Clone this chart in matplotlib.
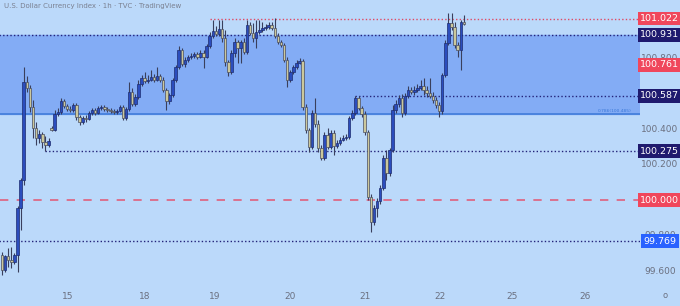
import matplotlib
matplotlib.use("Agg")
import matplotlib.pyplot as plt
import numpy as np

# hourly DXY candles
opens = [99.690, 99.606, 99.684, 99.662, 99.651, 99.690, 99.955, 100.113, 100.665, 100.631,
         100.524, 100.406, 100.349, 100.372, 100.327, 100.310, 100.406, 100.394, 100.485, 100.496,
         100.558, 100.530, 100.513, 100.507, 100.535, 100.468, 100.440, 100.462, 100.456, 100.490,
         100.507, 100.490, 100.518, 100.524, 100.513, 100.507, 100.501, 100.496, 100.501, 100.524,
         100.462, 100.513, 100.608, 100.541, 100.580, 100.654, 100.687, 100.670, 100.676, 100.693,
         100.676, 100.699, 100.676, 100.620, 100.558, 100.592, 100.676, 100.749, 100.845, 100.766,
         100.789, 100.806, 100.811, 100.823, 100.806, 100.828, 100.806, 100.868, 100.924, 100.952,
         100.935, 100.963, 100.913, 100.778, 100.721, 100.828, 100.890, 100.856, 100.890, 100.834,
         100.986, 100.941, 100.913, 100.947, 100.958, 100.969, 100.975, 100.986, 100.969, 100.924,
         100.890, 100.873, 100.789, 100.676, 100.721, 100.749, 100.772, 100.783, 100.524, 100.394,
         100.299, 100.490, 100.428, 100.293, 100.237, 100.366, 100.299, 100.377, 100.304, 100.321,
         100.338, 100.349, 100.355, 100.462, 100.490, 100.575, 100.518, 100.485, 100.383, 100.017,
         99.876, 99.955, 99.994, 100.068, 100.237, 100.152, 100.282, 100.507, 100.541, 100.575,
         100.490, 100.586, 100.620, 100.608, 100.620, 100.631, 100.642, 100.620, 100.603, 100.586,
         100.563, 100.535, 100.501, 100.704, 100.885, 100.997, 100.975, 100.873, 100.845, 101.003]
closes = [99.606, 99.684, 99.662, 99.651, 99.690, 99.955, 100.113, 100.665, 100.631, 100.524,
          100.406, 100.349, 100.372, 100.327, 100.310, 100.332, 100.394, 100.485, 100.496, 100.558,
          100.530, 100.513, 100.507, 100.535, 100.468, 100.440, 100.462, 100.456, 100.490, 100.507,
          100.490, 100.518, 100.524, 100.513, 100.507, 100.501, 100.496, 100.501, 100.524, 100.462,
          100.513, 100.608, 100.541, 100.580, 100.654, 100.687, 100.670, 100.676, 100.693, 100.676,
          100.699, 100.676, 100.620, 100.558, 100.592, 100.676, 100.749, 100.845, 100.766, 100.789,
          100.806, 100.811, 100.823, 100.806, 100.828, 100.806, 100.868, 100.924, 100.952, 100.935,
          100.963, 100.913, 100.778, 100.721, 100.828, 100.890, 100.856, 100.890, 100.834, 100.986,
          100.941, 100.913, 100.947, 100.958, 100.969, 100.975, 100.986, 100.969, 100.924, 100.890,
          100.873, 100.789, 100.676, 100.721, 100.749, 100.772, 100.783, 100.524, 100.394, 100.299,
          100.490, 100.428, 100.293, 100.237, 100.366, 100.299, 100.377, 100.304, 100.321, 100.338,
          100.349, 100.355, 100.462, 100.490, 100.575, 100.518, 100.485, 100.383, 100.017, 99.876,
          99.955, 99.994, 100.068, 100.237, 100.152, 100.282, 100.507, 100.541, 100.575, 100.490,
          100.586, 100.620, 100.608, 100.620, 100.631, 100.642, 100.620, 100.603, 100.586, 100.563,
          100.535, 100.501, 100.704, 100.885, 100.997, 100.975, 100.873, 100.845, 101.003, 100.992]
highs = [99.707, 99.690, 99.730, 99.735, 99.701, 99.966, 100.124, 100.749, 100.699, 100.648,
         100.563, 100.440, 100.394, 100.383, 100.361, 100.349, 100.417, 100.507, 100.518, 100.575,
         100.569, 100.541, 100.530, 100.547, 100.547, 100.479, 100.473, 100.479, 100.501, 100.518,
         100.518, 100.530, 100.535, 100.535, 100.524, 100.518, 100.513, 100.513, 100.535, 100.535,
         100.524, 100.665, 100.631, 100.597, 100.676, 100.704, 100.721, 100.704, 100.732, 100.710,
         100.749, 100.710, 100.693, 100.631, 100.603, 100.687, 100.761, 100.868, 100.856, 100.806,
         100.817, 100.828, 100.834, 100.834, 100.845, 100.845, 100.879, 100.947, 101.014, 100.980,
         101.014, 101.014, 100.958, 100.789, 100.845, 100.913, 100.901, 100.901, 100.913, 101.014,
         101.003, 100.997, 101.014, 101.014, 101.003, 100.992, 101.003, 101.003, 101.025, 100.941,
         100.901, 100.885, 100.806, 100.732, 100.761, 100.789, 100.800, 100.794, 100.541, 100.406,
         100.507, 100.575, 100.451, 100.310, 100.383, 100.406, 100.394, 100.394, 100.338, 100.355,
         100.366, 100.372, 100.473, 100.507, 100.587, 100.586, 100.530, 100.501, 100.394, 100.034,
         99.972, 100.011, 100.085, 100.254, 100.282, 100.293, 100.535, 100.563, 100.592, 100.597,
         100.603, 100.642, 100.637, 100.642, 100.654, 100.676, 100.687, 100.642, 100.687, 100.608,
         100.580, 100.552, 100.716, 100.901, 101.054, 101.054, 101.003, 100.890, 101.014, 101.042]
lows = [99.577, 99.594, 99.622, 99.617, 99.639, 99.594, 99.831, 100.085, 100.608, 100.496,
        100.349, 100.310, 100.321, 100.293, 100.275, 100.299, 100.389, 100.389, 100.473, 100.485,
        100.518, 100.501, 100.496, 100.496, 100.451, 100.423, 100.428, 100.440, 100.451, 100.479,
        100.479, 100.485, 100.507, 100.501, 100.496, 100.490, 100.485, 100.485, 100.496, 100.451,
        100.451, 100.501, 100.530, 100.530, 100.569, 100.642, 100.659, 100.659, 100.670, 100.665,
        100.670, 100.665, 100.608, 100.507, 100.541, 100.580, 100.665, 100.738, 100.755, 100.749,
        100.778, 100.794, 100.800, 100.794, 100.800, 100.744, 100.800, 100.856, 100.913, 100.924,
        100.924, 100.890, 100.755, 100.699, 100.710, 100.806, 100.772, 100.772, 100.823, 100.823,
        100.930, 100.890, 100.856, 100.935, 100.947, 100.958, 100.963, 100.958, 100.913, 100.879,
        100.862, 100.778, 100.637, 100.665, 100.710, 100.738, 100.766, 100.507, 100.377, 100.270,
        100.287, 100.411, 100.270, 100.225, 100.225, 100.287, 100.287, 100.254, 100.293, 100.310,
        100.332, 100.338, 100.344, 100.451, 100.479, 100.507, 100.468, 100.366, 100.000, 99.820,
        99.859, 99.904, 99.978, 100.056, 100.113, 100.135, 100.270, 100.490, 100.524, 100.468,
        100.479, 100.575, 100.597, 100.592, 100.608, 100.620, 100.592, 100.580, 100.575, 100.547,
        100.518, 100.468, 100.485, 100.693, 100.873, 100.958, 100.856, 100.806, 100.732, 100.986]

# drawn levels: (price, start candle, colour)
zone_top = 100.931
zone_bottom = 100.485
levels_dotted = [(101.022, 67, "#e04a64"), (100.931, -1, "#23237a"),
                 (100.587, 114, "#23237a"), (100.275, 14, "#23237a"),
                 (99.769, -1, "#23237a")]
level_dashed = 100.000

# right-hand price tags
tags = [(101.022, "#f0475c"), (100.931, "#1f1a6e"), (100.761, "#f0475c"),
        (100.587, "#1f1a6e"), (100.275, "#1f1a6e"), (100.000, "#f0475c"),
        (99.769, "#2962ff")]
# grey scale labels that are not hidden behind a tag
axis_prices = [100.800, 100.400, 100.200, 99.800, 99.600]

day_labels = ["15", "18", "19", "20", "21", "22", "25", "26"]
day_pos = [21.3, 46.1, 68.7, 92.9, 117.1, 141.3, 164.5, 188.1]

bg = "#bbd9fa"
fig = plt.figure(figsize=(6.8, 3.06), dpi=100, facecolor=bg)
ax = fig.add_axes([0, 0.062, 640 / 680, 0.938])
ax.set_facecolor(bg)

o = np.array(opens)
c = np.array(closes)
h = np.array(highs)
l = np.array(lows)
x = np.arange(len(c))
up = c >= o

ax.set_xlim(-0.645, 205.8)
ax.set_ylim(99.5098, 101.1268)

ax.axhspan(zone_bottom, zone_top, color="#83acf5", zorder=0)
ax.axhline(zone_bottom, color="#3b78d8", lw=1.1, zorder=1)
ax.text(203, zone_bottom + 0.006, "0.786(100.485)", fontsize=3.2, color="#3b78d8",
        ha="right", va="bottom", zorder=1)

for price, start, col in levels_dotted:
    ax.hlines(price, start, 205.8, colors=col, lw=1.0, linestyles=(0, (1, 1.6)), zorder=1)
ax.axhline(level_dashed, color="#e0607c", lw=1.2, ls=(0, (5, 5)), zorder=1)

ax.vlines(x, l, h, colors="#3a3f5c", lw=0.8, zorder=2)
ax.bar(x[up], (c - o)[up], bottom=o[up], width=0.8, color="#2b4dbd",
       edgecolor="#1d2c70", linewidth=0.5, zorder=3)
ax.bar(x[~up], (c - o)[~up], bottom=o[~up], width=0.8, color="#cbc89c",
       edgecolor="#4a4e60", linewidth=0.5, zorder=3)

ax.set_xticks([])
ax.set_yticks([])
for s in ax.spines.values():
    s.set_visible(False)

tr = ax.get_yaxis_transform()
for p in axis_prices:
    ax.text(1.031, p, f"{p:.3f}", transform=tr, fontsize=6.5, color="#6b7080",
            ha="center", va="center", clip_on=False)
for p, col in tags:
    ax.text(1.031, p, f"{p:.3f}", transform=tr, fontsize=6.8, color="white",
            ha="center", va="center", clip_on=False, zorder=5,
            bbox=dict(boxstyle="square,pad=0.25", fc=col, ec="none"))

for lab, pos in zip(day_labels, day_pos):
    ax.text(pos, -0.033, lab, transform=ax.get_xaxis_transform(), fontsize=6.5,
            color="#6b7080", ha="center", va="center", clip_on=False)
fig.text(665 / 680, 10 / 306, "o", fontsize=6, color="#6b7080", ha="center", va="center")

fig.text(4 / 680, 1 - 6 / 306, "U.S. Dollar Currency Index · 1h · TVC · TradingView",
         fontsize=5, color="#7a8090", ha="left", va="center")

fig.savefig("out.png", dpi=100, facecolor=bg)
